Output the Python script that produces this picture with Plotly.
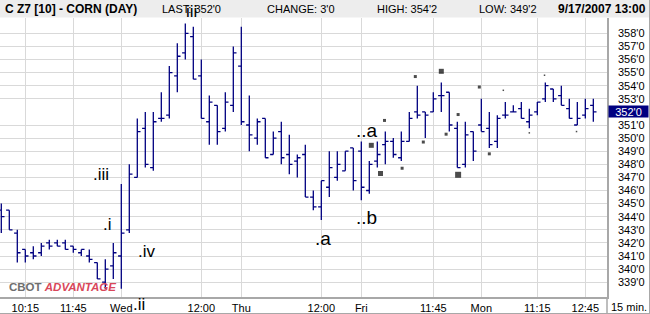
import plotly.graph_objects as go

# ---------------- data ----------------
bar_index = list(range(75))
opens = [344.5, 344.5, 342.75, 341.5, 341.25, 341.25, 342, 342, 342, 341.75,
         341.25, 341, 340.5, 339, 340.25, 341, 343, 347, 350.75, 347.75,
         351.5, 351.75, 354.75, 356.5, 357.75, 354.75, 351.25, 352.5, 350.75, 352.5,
         355.5, 351, 350, 351.5, 348.75, 350.5, 348.75, 348.25, 348.75, 345.5,
         344.75, 346.25, 347, 347.5, 349.25, 349, 346, 348.25, 349.5, 349.75,
         348.5, 349.75, 352, 352, 352, 353.25, 353.5, 350.75, 348, 350.5,
         351, 350.75, 349.75, 351.75, 352, 352.25, 351.25, 352, 353, 353.75,
         353.25, 352.25, 351, 351.75, 352.5]
highs = [345, 344.5, 343, 341.5, 341.75, 342, 342.25, 342.25, 342.25, 341.75,
         341.5, 341.5, 340.5, 340.75, 342, 346.5, 348, 351.5, 352, 352,
         353.5, 355.5, 357.25, 358.75, 358.5, 356, 353.25, 352.5, 353.5, 357,
         358.5, 353.25, 351.5, 351.5, 350.5, 351.25, 350.25, 348.75, 349.5, 346,
         346.75, 349, 349, 349, 349.25, 349.75, 348.25, 349.75, 350.5, 350,
         350.5, 352, 354, 352, 353.5, 354.25, 353.5, 351.25, 351.25, 350.5,
         353, 352, 351.75, 352.75, 352.5, 352.75, 352.25, 352.75, 354.25, 353.75,
         354, 353, 352.75, 353, 353]
lows = [342.75, 343, 340.5, 340.5, 340.75, 341, 341.5, 341.75, 341.5, 341.25,
        341, 340.5, 339.25, 338.5, 339.25, 338.5, 342.75, 347, 347.75, 347.5,
        351.25, 351.5, 353.5, 356, 354.5, 351.5, 349.5, 349.5, 350.5, 352,
        351, 349, 349.5, 348.5, 348.75, 348, 347.25, 347, 345.5, 344.5,
        343.75, 345.5, 346.75, 347.5, 346, 345.25, 345.75, 347.75, 348, 348.5,
        348.25, 349.75, 351.5, 350, 352, 352, 350.5, 347.75, 347.75, 348.25,
        350.5, 349.25, 349.25, 351.5, 352, 351.5, 350.75, 351.75, 352.75, 352.75,
        352.5, 351.5, 351, 351.5, 351.25]
closes = [344, 343, 341.25, 341, 341, 341.75, 341.75, 341.75, 341.5, 341.5,
          341.5, 340.75, 339.25, 340, 341.25, 342.75, 347.25, 350.5, 348, 351.25,
          351.5, 355, 356.25, 358, 354.5, 351.5, 352.75, 350.5, 352.75, 356.5,
          351.25, 350.25, 351.25, 348.5, 350, 348.5, 348, 348.5, 345.5, 344.75,
          346.75, 347.75, 348, 349, 346.75, 346.25, 348, 348.75, 349.75, 348.75,
          349.75, 351.5, 351.75, 351.75, 353, 353.25, 351, 347.75, 350.25, 349,
          350.5, 349.5, 351.5, 351.75, 352, 351.5, 351.75, 352.75, 354, 353,
          352.5, 351.5, 351.5, 352.25, 352]

# time-axis labels (bar index of each labelled bar)
time_tick_index = [3, 9, 15, 25, 30, 40, 45, 54, 60, 67, 73]
time_tick_text = ["10:15", "11:45", "Wed", "12:00", "Thu", "12:00", "Fri",
                  "11:45", "Mon", "11:15", "12:45"]

price_ticks = list(range(339, 359))
last_price = 352

# study markers (bar index, price, size class)
mark_x = [46.25, 47.4, 47.9, 50.1, 51.75, 52.75, 55.0, 55.6, 57.1, 57.1,
          59.75, 61.0, 62.75, 66.0, 67.9, 71.9]
mark_y = [349.45, 347.3, 351.35, 347.7, 354.7, 349.7, 355.1, 350.3, 351.8, 347.2,
          353.9, 348.8, 353.65, 350.4, 354.8, 350.5]
mark_size = [5, 5, 3, 3, 3, 3, 5, 3, 3, 6,
             3, 3, 1.5, 1.5, 1.5, 1.5]

# wave labels (bar index, price)
wave_text = ["iii", ".iii", ".i", ".iv", ".ii", ".a", "..b", "..a"]
wave_x = [23.8, 12.5, 13.3, 18.15, 17.15, 40.15, 45.7, 45.65]
wave_y = [359.65, 347.25, 343.4, 341.35, 337.3, 342.33, 343.97, 350.58]
wave_size = [17, 17, 17, 17, 17, 19, 19, 19]

header_items = ["LAST: 352'0", "CHANGE: 3'0", "HIGH: 354'2", "LOW: 349'2"]
header_x = [160, 265, 375, 477]

# ---------------- layout helpers ----------------
W, H = 650, 314
ML, MR, MT, MB = 0, 43, 18, 17
PW, PH = W - ML - MR, H - MT - MB
X0, X1 = -0.1625, 75.71
Y0, Y1 = 337.87, 359.17


def px(x):
    return (x - ML) / PW


def py(y):
    return (H - MB - y) / PH


def dx(i):  # bar index -> paper x
    return (i - X0) / (X1 - X0)


def dy(v):  # price -> paper y
    return (v - Y0) / (Y1 - Y0)


NAVY = "#000080"
GRID = "#D9D9D9"
AXIS = "#A8A8A8"
FONT = "Liberation Sans, Arial, sans-serif"
NARROW = "Liberation Sans Narrow, Arial Narrow, Liberation Sans, Arial, sans-serif"

fig = go.Figure()
fig.add_trace(go.Ohlc(
    x=bar_index, open=opens, high=highs, low=lows, close=closes,
    increasing=dict(line=dict(color=NAVY, width=1.3)),
    decreasing=dict(line=dict(color=NAVY, width=1.3)),
    tickwidth=0.4, hoverinfo="skip", showlegend=False,
))
fig.add_trace(go.Scatter(
    x=mark_x, y=mark_y, mode="markers",
    marker=dict(symbol="square", size=mark_size, color="black", line=dict(width=0)),
    hoverinfo="skip", showlegend=False, cliponaxis=False,
))

annotations = []
# header
annotations.append(dict(x=px(3), y=py(9), xref="paper", yref="paper",
                        text="<b>C Z7 [10] - CORN (DAY)</b>", showarrow=False,
                        font=dict(family=NARROW, size=12, color="black"),
                        xanchor="left", yanchor="middle"))
for t, x in zip(header_items, header_x):
    annotations.append(dict(x=px(x), y=py(9), xref="paper", yref="paper", text=t,
                            showarrow=False, font=dict(family=NARROW, size=11, color="black"),
                            xanchor="left", yanchor="middle"))
annotations.append(dict(x=px(648), y=py(9), xref="paper", yref="paper",
                        text="<b>9/17/2007 13:00</b>", showarrow=False,
                        font=dict(family=NARROW, size=12, color="black"),
                        xanchor="right", yanchor="middle"))

for t, x, y, s in zip(wave_text, wave_x, wave_y, wave_size):
    annotations.append(dict(x=dx(x), y=dy(y), xref="paper", yref="paper", text=t,
                            showarrow=False,
                            font=dict(family=FONT, size=s, color="black"),
                            xanchor="center", yanchor="middle"))

# last price box
annotations.append(dict(x=px(608), y=last_price, xref="paper", yref="y",
                        text=f"{last_price}'0", showarrow=False, width=38, height=10,
                        bgcolor=NAVY, borderpad=0.5, align="center",
                        font=dict(family=FONT, size=11, color="white"),
                        xanchor="left", yanchor="middle"))
# interval label
annotations.append(dict(x=px(629), y=py(307), xref="paper", yref="paper",
                        text="15 min.", showarrow=False,
                        font=dict(family=FONT, size=11, color="black"),
                        xanchor="center", yanchor="middle"))
# logo
annotations.append(dict(x=px(7), y=py(287), xref="paper", yref="paper",
                        text="<b><span style='color:#6E6E6E'>CBOT</span> "
                             "<i><span style='color:#D9475A'>ADVANTAGE</span></i></b>",
                        showarrow=False, font=dict(family=NARROW, size=11.5),
                        xanchor="left", yanchor="middle"))

shapes = [
    dict(type="rect", xref="paper", yref="paper", x0=px(0), x1=px(W), y0=py(17.5), y1=py(0),
         fillcolor="#EDEDED", line=dict(width=0), layer="above"),
    # axis divider continuing through the time-label strip
    dict(type="line", xref="paper", yref="paper", x0=px(607), x1=px(607),
         y0=py(297), y1=py(313), line=dict(color=AXIS, width=1.5)),
    # outer frame (bottom and right)
    dict(type="line", xref="paper", yref="paper", x0=px(0), x1=px(W),
         y0=py(313.5), y1=py(313.5), line=dict(color=AXIS, width=1)),
    dict(type="line", xref="paper", yref="paper", x0=px(649.5), x1=px(649.5),
         y0=py(0), y1=py(314), line=dict(color=AXIS, width=1)),
]

fig.update_layout(
    width=W, height=H,
    margin=dict(l=ML, r=MR, t=MT, b=MB, pad=0),
    paper_bgcolor="white", plot_bgcolor="white",
    annotations=annotations, shapes=shapes,
    showlegend=False,
    xaxis=dict(range=[X0, X1], tickmode="array", tickvals=time_tick_index,
               ticktext=time_tick_text, showgrid=True, gridcolor=GRID, gridwidth=1,
               showline=True, linecolor=AXIS, linewidth=1.5, ticks="", zeroline=False,
               tickfont=dict(family=FONT, size=11, color="black"),
               rangeslider=dict(visible=False), fixedrange=True),
    yaxis=dict(range=[Y0, Y1], side="right", tickmode="array",
               tickvals=[v for v in price_ticks if v != last_price],
               ticktext=[f"{v}'0" for v in price_ticks if v != last_price],
               showgrid=True, gridcolor=GRID, gridwidth=1,
               showline=True, linecolor=AXIS, linewidth=1.5, ticks="", zeroline=False,
               ticklabelstandoff=7,
               tickfont=dict(family=FONT, size=11, color="black"), fixedrange=True),
)

fig.write_html("out.html")
